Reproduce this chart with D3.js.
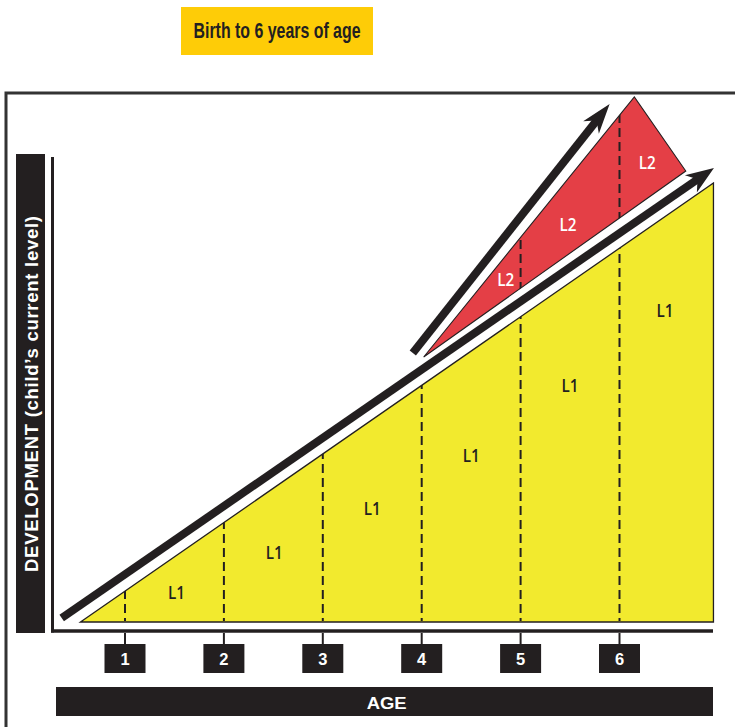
<!DOCTYPE html>
<html>
<head>
<meta charset="utf-8">
<script src="https://cdn.jsdelivr.net/npm/d3@7"></script>
<style>
  html, body { margin: 0; padding: 0; background: #fff; }
  svg { display: block; }
</style>
</head>
<body>
<div id="chart"></div>
<script>
// ---------------- data ----------------
const title = "Birth to 6 years of age";
const yAxisTitle = "DEVELOPMENT (child\u2019s current level)";
const xAxisTitle = "AGE";
const ages = [1, 2, 3, 4, 5, 6];
const ageLabels = ["1", "2", "3", "4", "5", "6"];

// L1 region (current level): [age, level]
const l1Region = [[0.55, 0], [6.95, 4.39], [6.95, 0]];
// L2 region (next level)
const l2Region = [[4.02, 2.65], [6.15, 5.25], [6.67, 4.51]];
// growth arrows: [start, tip] as [age, level]
const l1Arrow = [[0.36, 0.04], [6.955, 4.54]];
const l2Arrow = [[3.91, 2.69], [5.90, 5.18]];

// region labels
const l1Labels = ["L1", "L1", "L1", "L1", "L1", "L1"];
const l1LabelAges = [1.52, 2.51, 3.50, 4.50, 5.50, 6.46];
const l1LabelLevels = [0.30, 0.70, 1.14, 1.67, 2.37, 3.12];
const l2Labels = ["L2", "L2", "L2"];
const l2LabelAges = [4.85, 5.48, 6.28];
const l2LabelLevels = [3.43, 3.98, 4.60];

// ---------------- drawing ----------------
const W = 735, H = 727;
const ink = "#231f20";
const yellow = "#f2ea2e";
const red = "#e43f46";

const svg = d3.select("#chart").append("svg")
  .attr("width", W).attr("height", H);

const x = d3.scaleLinear().domain([0, 7]).range([26.1, 718.4]);
const y = d3.scaleLinear().domain([0, 5]).range([622, 122]);

// title
svg.append("rect").attr("x", 181).attr("y", 7).attr("width", 192).attr("height", 48)
  .attr("fill", "#fecc07");
svg.append("text").attr("x", 277).attr("y", 37.5)
  .attr("text-anchor", "middle")
  .attr("font-family", "'Liberation Sans Narrow', 'Liberation Sans', Arial, sans-serif")
  .attr("font-weight", "bold").attr("font-size", 21.5)
  .attr("textLength", 167).attr("lengthAdjust", "spacingAndGlyphs")
  .attr("fill", ink).text(title);

// outer frame
svg.append("rect").attr("x", 6).attr("y", 93).attr("width", 760).attr("height", 700)
  .attr("fill", "none").attr("stroke", "#333").attr("stroke-width", 3);

// y axis title bar
svg.append("rect").attr("x", 16).attr("y", 154).attr("width", 29).attr("height", 479)
  .attr("fill", ink);
svg.append("text")
  .attr("transform", "translate(37.5,394) rotate(-90)")
  .attr("text-anchor", "middle")
  .attr("font-family", "'Liberation Sans', Arial, sans-serif")
  .attr("font-weight", "bold").attr("font-size", 18.5)
  .attr("textLength", 356).attr("lengthAdjust", "spacing")
  .attr("fill", "#fff").text(yAxisTitle);

// axis lines
svg.append("line").attr("x1", 52.5).attr("x2", 52.5).attr("y1", 157).attr("y2", 632.5)
  .attr("stroke", ink).attr("stroke-width", 3);
svg.append("line").attr("x1", 51).attr("x2", 713).attr("y1", 631).attr("y2", 631)
  .attr("stroke", ink).attr("stroke-width", 3.5);

const pts = arr => arr.map(d => [x(d[0]), y(d[1])]);
const line = d3.line();

// clip paths
const defs = svg.append("defs");
defs.append("clipPath").attr("id", "clipL1").append("path").attr("d", line(pts(l1Region)) + "Z");
defs.append("clipPath").attr("id", "clipL2").append("path").attr("d", line(pts(l2Region)) + "Z");

// regions
svg.append("path").attr("d", line(pts(l1Region)) + "Z")
  .attr("fill", yellow).attr("stroke", ink).attr("stroke-width", 1.3).attr("stroke-linejoin", "miter");
svg.append("path").attr("d", line(pts(l2Region)) + "Z")
  .attr("fill", red).attr("stroke", ink).attr("stroke-width", 1.1).attr("stroke-linejoin", "miter");

// dashed age lines inside regions
["clipL1", "clipL2"].forEach(id => {
  svg.append("g").attr("clip-path", `url(#${id})`)
    .selectAll("line").data(ages).join("line")
    .attr("x1", d => x(d)).attr("x2", d => x(d))
    .attr("y1", y(5.5)).attr("y2", y(0) - 1)
    .attr("stroke", ink).attr("stroke-width", 2)
    .attr("stroke-dasharray", "9,5");
});

// tick stubs below axis
svg.append("g").selectAll("line").data(ages).join("line")
  .attr("x1", d => x(d)).attr("x2", d => x(d))
  .attr("y1", 633).attr("y2", 645)
  .attr("stroke", ink).attr("stroke-width", 2);

// age boxes
const boxes = svg.append("g").selectAll("g").data(ages).join("g");
boxes.append("rect")
  .attr("x", d => x(d) - 20.5).attr("y", 644).attr("width", 41).attr("height", 29)
  .attr("fill", ink);
boxes.append("text")
  .attr("x", d => x(d)).attr("y", 664.5).attr("text-anchor", "middle")
  .attr("font-family", "'Liberation Sans', Arial, sans-serif")
  .attr("font-weight", "bold").attr("font-size", 16.5)
  .attr("fill", "#fff").text((d, i) => ageLabels[i]);

// x axis title bar
svg.append("rect").attr("x", 56).attr("y", 687).attr("width", 657).attr("height", 29)
  .attr("fill", ink);
svg.append("text").attr("x", 386.7).attr("y", 708.5).attr("text-anchor", "middle")
  .attr("font-family", "'Liberation Sans', Arial, sans-serif")
  .attr("font-weight", "bold").attr("font-size", 16.5)
  .attr("textLength", 40).attr("lengthAdjust", "spacingAndGlyphs")
  .attr("fill", "#fff").text(xAxisTitle);

// arrows
function drawArrow(a, width, L, Wd, notch) {
  const p0 = [x(a[0][0]), y(a[0][1])];
  const p1 = [x(a[1][0]), y(a[1][1])];
  const dx = p1[0] - p0[0], dy = p1[1] - p0[1];
  const len = Math.hypot(dx, dy);
  const u = [dx / len, dy / len];
  const n = [-u[1], u[0]];
  const back = k => [p1[0] - u[0] * k, p1[1] - u[1] * k];
  const b = back(L), nt = back(notch), se = back(notch - 2);
  svg.append("line")
    .attr("x1", p0[0]).attr("y1", p0[1]).attr("x2", se[0]).attr("y2", se[1])
    .attr("stroke", ink).attr("stroke-width", width).attr("stroke-linecap", "butt");
  const head = [p1, [b[0] + n[0] * Wd, b[1] + n[1] * Wd], nt, [b[0] - n[0] * Wd, b[1] - n[1] * Wd]];
  svg.append("path").attr("d", line(head) + "Z").attr("fill", ink);
}
drawArrow(l1Arrow, 8, 28, 10.5, 20);
drawArrow(l2Arrow, 8, 30, 10, 21);

// labels
svg.append("g").selectAll("text").data(l1Labels).join("text")
  .attr("x", (d, i) => x(l1LabelAges[i])).attr("y", (d, i) => y(l1LabelLevels[i]) + 6.5)
  .attr("text-anchor", "middle")
  .attr("font-family", "'Open Sans', sans-serif").attr("font-weight", 600)
  .attr("font-size", 18).attr("textLength", 17).attr("lengthAdjust", "spacingAndGlyphs")
  .attr("fill", ink).text(d => d);
svg.append("g").selectAll("text").data(l2Labels).join("text")
  .attr("x", (d, i) => x(l2LabelAges[i])).attr("y", (d, i) => y(l2LabelLevels[i]) + 6.5)
  .attr("text-anchor", "middle")
  .attr("font-family", "'Open Sans', sans-serif").attr("font-weight", 600)
  .attr("font-size", 18).attr("textLength", 17).attr("lengthAdjust", "spacingAndGlyphs")
  .attr("fill", "#fff").text(d => d);
</script>
</body>
</html>
